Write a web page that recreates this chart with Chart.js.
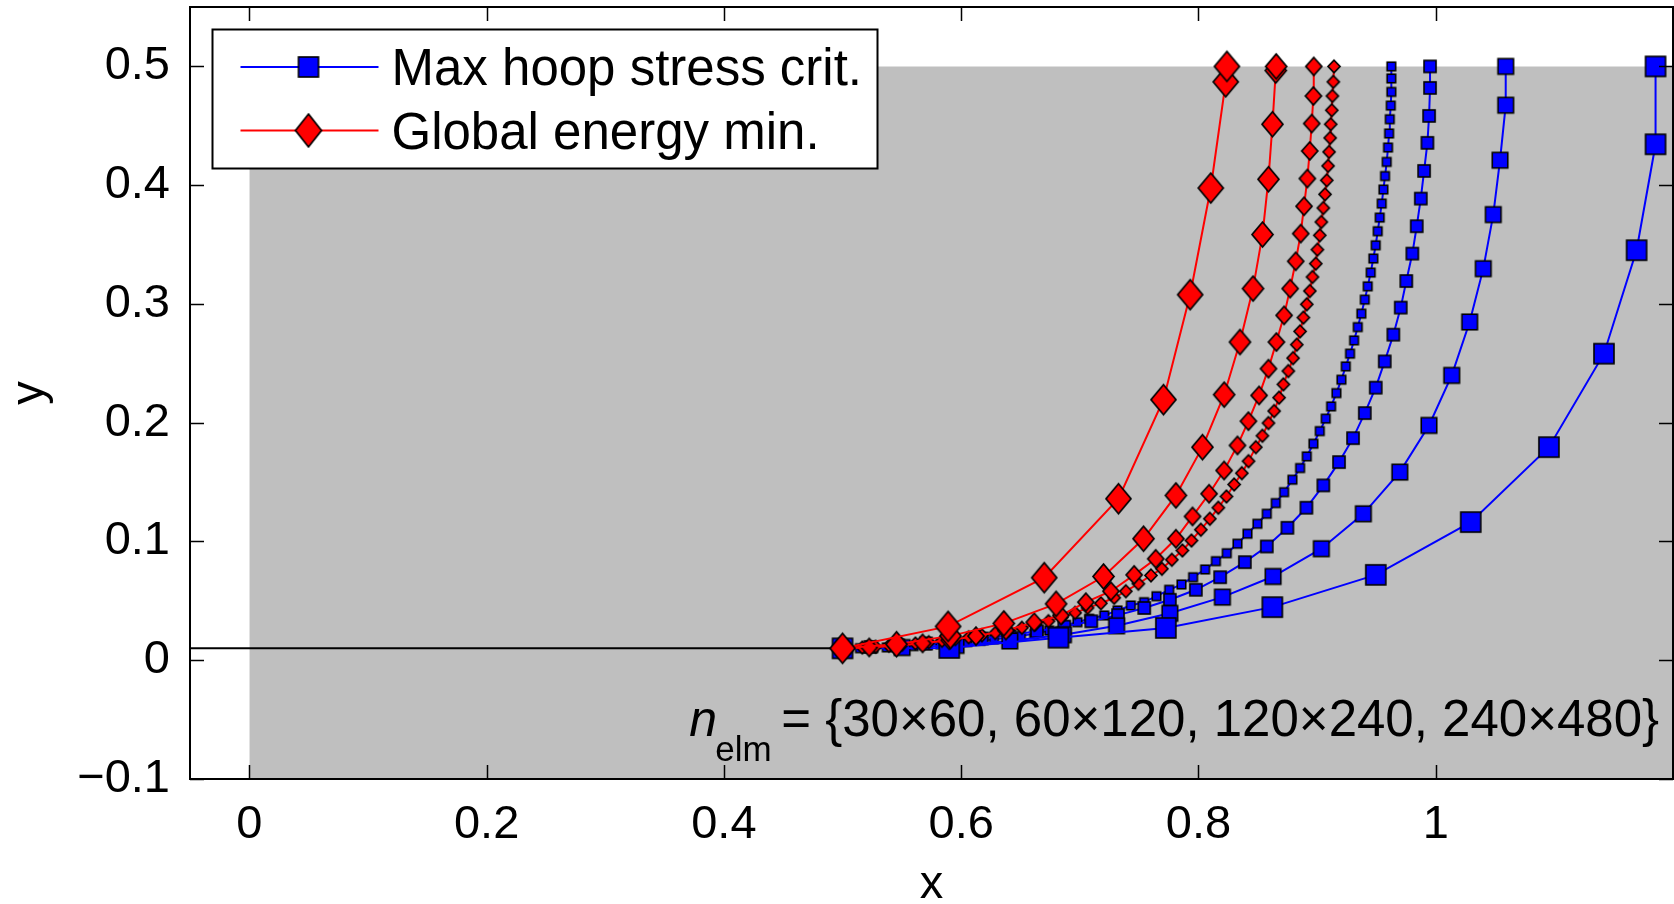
<!DOCTYPE html>
<html>
<head>
<meta charset="utf-8">
<script src="https://cdn.jsdelivr.net/npm/chart.js@4.4.1/dist/chart.umd.min.js"></script>
<style>
  html, body { margin: 0; padding: 0; background: #ffffff; }
  #wrap { width: 1674px; height: 904px; position: relative; }
  canvas { display: block; }
</style>
</head>
<body>
<div id="wrap"><canvas id="chart" width="1674" height="904"></canvas></div>
<script>
// ---------------- data ----------------
const seriesNames = ['Max hoop stress crit.', 'Global energy min.'];
const meshLabels = ['30\u00d760', '60\u00d7120', '120\u00d7240', '240\u00d7480'];

const xTicks = [0, 0.2, 0.4, 0.6, 0.8, 1];
const yTicks = [-0.1, 0, 0.1, 0.2, 0.3, 0.4, 0.5];

// specimen (grey domain) and initial crack
const domainX = [0, 1.2];
const domainTop = [0.5, 0.5];
const domainBottom = -0.1;
const crackX = [-0.05, 0.5];
const crackY = [0.01, 0.01];

// Max hoop stress criterion
const hoop30X = [0.500, 0.590, 0.682, 0.7725, 0.8623, 0.9495, 1.0295, 1.0954, 1.1418, 1.1693, 1.1853, 1.1853];
const hoop30Y = [0.010, 0.0104, 0.019, 0.0272, 0.0447, 0.0719, 0.1163, 0.1794, 0.2581, 0.3452, 0.4344, 0.500];

const hoop60X = [0.500, 0.5502, 0.5957, 0.641, 0.6862, 0.731, 0.7759, 0.8202, 0.8629, 0.9036, 0.939, 0.9697, 0.9943, 1.0135, 1.0286, 1.0401, 1.0485, 1.0542, 1.059, 1.059];
const hoop60Y = [0.010, 0.0107, 0.0125, 0.0162, 0.0215, 0.029, 0.0395, 0.0531, 0.0705, 0.0939, 0.1233, 0.1584, 0.1977, 0.2398, 0.2848, 0.3297, 0.3752, 0.421, 0.4673, 0.500];

const hoop120X = [0.500, 0.5235, 0.547, 0.5705, 0.594, 0.6174, 0.6407, 0.6639, 0.6869, 0.7097, 0.7322, 0.7543, 0.7759, 0.7978, 0.8183, 0.8391, 0.8576, 0.875, 0.891, 0.9053, 0.9185, 0.9303, 0.9402, 0.9494, 0.957, 0.9643, 0.9705, 0.9752, 0.9803, 0.984, 0.9874, 0.9902, 0.993, 0.9944, 0.9952, 0.9952];
const hoop120Y = [0.010, 0.0112, 0.0125, 0.0141, 0.016, 0.0183, 0.0211, 0.0244, 0.0283, 0.0328, 0.038, 0.044, 0.0509, 0.0593, 0.0699, 0.0826, 0.0958, 0.1115, 0.1284, 0.1472, 0.1668, 0.187, 0.2081, 0.2295, 0.2516, 0.2741, 0.2969, 0.3193, 0.3424, 0.3654, 0.3887, 0.412, 0.4356, 0.4583, 0.4819, 0.500];

const hoop240X = [0.500, 0.5147, 0.526, 0.5373, 0.5486, 0.5599, 0.5712, 0.5825, 0.5938, 0.6051, 0.6164, 0.6277, 0.639, 0.6503, 0.6616, 0.6742, 0.6869, 0.698, 0.7079, 0.7206, 0.7318, 0.743, 0.7542, 0.7646, 0.7753, 0.7857, 0.7955, 0.8056, 0.8147, 0.8239, 0.8329, 0.8413, 0.8497, 0.8576, 0.8652, 0.8722, 0.8792, 0.8857, 0.8913, 0.8969, 0.9023, 0.9073, 0.9118, 0.9163, 0.9205, 0.9242, 0.9278, 0.9312, 0.9343, 0.9373, 0.9402, 0.9427, 0.9452, 0.9474, 0.9494, 0.9511, 0.9528, 0.9545, 0.9559, 0.9573, 0.9587, 0.9598, 0.9607, 0.9613, 0.9621, 0.9626, 0.9626, 0.9626];
const hoop240Y = [0.010, 0.0101, 0.0104, 0.0108, 0.0113, 0.0119, 0.0126, 0.0134, 0.0143, 0.0153, 0.0164, 0.0176, 0.019, 0.0205, 0.0222, 0.025, 0.0292, 0.032, 0.0349, 0.0377, 0.0419, 0.0461, 0.0489, 0.0539, 0.0593, 0.0638, 0.0699, 0.0764, 0.0834, 0.0901, 0.0981, 0.1065, 0.1149, 0.1233, 0.1323, 0.1415, 0.152, 0.1618, 0.1716, 0.1823, 0.1929, 0.2034, 0.2137, 0.2249, 0.2362, 0.2474, 0.2581, 0.2693, 0.2805, 0.2918, 0.3036, 0.3148, 0.3264, 0.3382, 0.3494, 0.3612, 0.3727, 0.3845, 0.3963, 0.4077, 0.4196, 0.4317, 0.4435, 0.4555, 0.467, 0.4785, 0.4898, 0.500];

// Global energy minimisation
const energy30X = [0.500, 0.589, 0.670, 0.7326, 0.7705, 0.793, 0.8104, 0.823, 0.824];
const energy30Y = [0.010, 0.0285, 0.0695, 0.136, 0.2194, 0.3078, 0.3976, 0.487, 0.500];

const energy60X = [0.500, 0.5455, 0.591, 0.636, 0.680, 0.720, 0.7537, 0.781, 0.8034, 0.8217, 0.835, 0.846, 0.854, 0.859, 0.8624, 0.8652, 0.8655];
const energy60Y = [0.010, 0.0135, 0.0205, 0.031, 0.0475, 0.0705, 0.1023, 0.1388, 0.1794, 0.2236, 0.2679, 0.3129, 0.3584, 0.405, 0.4513, 0.4965, 0.500];

const energy120X = [0.500, 0.5225, 0.545, 0.5675, 0.590, 0.6125, 0.6377, 0.6616, 0.6841, 0.7051, 0.7262, 0.7458, 0.764, 0.781, 0.795, 0.809, 0.8216, 0.8329, 0.8421, 0.8511, 0.859, 0.8657, 0.8722, 0.8773, 0.882, 0.8862, 0.889, 0.8918, 0.8938, 0.8955, 0.8969, 0.8972];
const energy120Y = [0.010, 0.0108, 0.0122, 0.0142, 0.0168, 0.0203, 0.025, 0.032, 0.0377, 0.0489, 0.0581, 0.0719, 0.0854, 0.1023, 0.1211, 0.1402, 0.1598, 0.1809, 0.2013, 0.223, 0.2455, 0.2679, 0.2904, 0.3129, 0.3359, 0.3592, 0.3822, 0.4056, 0.4288, 0.4519, 0.4751, 0.500];

const energy240X = [0.500, 0.5167, 0.5279, 0.5391, 0.5503, 0.5615, 0.5727, 0.5839, 0.5951, 0.6063, 0.6175, 0.6287, 0.6399, 0.6512, 0.6624, 0.6736, 0.6849, 0.6961, 0.7065, 0.7178, 0.729, 0.7388, 0.7494, 0.760, 0.7692, 0.7776, 0.7865, 0.7941, 0.802, 0.8096, 0.8168, 0.8236, 0.8301, 0.8366, 0.8422, 0.8484, 0.8539, 0.859, 0.8638, 0.868, 0.8716, 0.8758, 0.8798, 0.8829, 0.8857, 0.8885, 0.8913, 0.8939, 0.8961, 0.8989, 0.9003, 0.9023, 0.9036, 0.9053, 0.9067, 0.9082, 0.9093, 0.9101, 0.911, 0.9115, 0.9124, 0.9129, 0.9137, 0.9143];
const energy240Y = [0.010, 0.0107, 0.0114, 0.0122, 0.0131, 0.0141, 0.0152, 0.0164, 0.0178, 0.0193, 0.021, 0.0229, 0.025, 0.0273, 0.0301, 0.0329, 0.0362, 0.0399, 0.0441, 0.048, 0.0526, 0.0581, 0.0644, 0.0714, 0.077, 0.0846, 0.0924, 0.1008, 0.1099, 0.1191, 0.1284, 0.1379, 0.148, 0.1575, 0.1676, 0.1794, 0.189, 0.1997, 0.2098, 0.2211, 0.2323, 0.2435, 0.2544, 0.2657, 0.2769, 0.2885, 0.2997, 0.3109, 0.3227, 0.3339, 0.3457, 0.3578, 0.369, 0.3808, 0.3923, 0.4041, 0.4162, 0.428, 0.4398, 0.4513, 0.4631, 0.4751, 0.487, 0.500];

// ---------------- styling ----------------
const BLUE = '#0000ff';
const RED = '#ff0000';
const FONT = "'Liberation Sans', Arial, Helvetica, sans-serif";

function squareMarker(side, fill) {
  const s = Math.ceil(side) + 4;
  const c = document.createElement('canvas');
  c.width = s; c.height = s;
  const g = c.getContext('2d');
  const o = (s - side) / 2;
  g.fillStyle = fill;
  g.fillRect(o, o, side, side);
  g.strokeStyle = '#000';
  g.lineWidth = 1.6;
  g.strokeRect(o, o, side, side);
  return c;
}
function diamondMarker(w, h, fill) {
  const cw = Math.ceil(w) + 4, ch = Math.ceil(h) + 4;
  const c = document.createElement('canvas');
  c.width = cw; c.height = ch;
  const g = c.getContext('2d');
  g.beginPath();
  g.moveTo(cw / 2, (ch - h) / 2);
  g.lineTo((cw + w) / 2, ch / 2);
  g.lineTo(cw / 2, (ch + h) / 2);
  g.lineTo((cw - w) / 2, ch / 2);
  g.closePath();
  g.fillStyle = fill;
  g.fill();
  g.strokeStyle = '#000';
  g.lineWidth = 1.7;
  g.lineJoin = 'miter';
  g.stroke();
  return c;
}

const zip = (X, Y) => X.map((v, i) => ({ x: v, y: Y[i] }));

function series(label, X, Y, color, marker, order) {
  return {
    label: label,
    data: zip(X, Y),
    showLine: true,
    borderColor: color,
    borderWidth: 2,
    backgroundColor: color,
    pointStyle: marker,
    pointRadius: 6,
    pointHoverRadius: 6,
    fill: false,
    tension: 0,
    order: order
  };
}

const datasets = [
  {
    label: 'domain',
    data: zip(domainX, domainTop),
    showLine: true,
    borderWidth: 0,
    borderColor: 'rgba(0,0,0,0)',
    backgroundColor: '#bfbfbf',
    pointRadius: 0,
    fill: { value: domainBottom },
    order: 100
  },
  {
    label: 'crack',
    data: zip(crackX, crackY),
    showLine: true,
    borderWidth: 2,
    borderColor: '#000',
    pointRadius: 0,
    fill: false,
    order: 90
  },
  series(seriesNames[0] + ' ' + meshLabels[3], hoop240X, hoop240Y, BLUE, squareMarker(8.5, BLUE), 18),
  series(seriesNames[0] + ' ' + meshLabels[2], hoop120X, hoop120Y, BLUE, squareMarker(12, BLUE), 17),
  series(seriesNames[0] + ' ' + meshLabels[1], hoop60X, hoop60Y, BLUE, squareMarker(15.5, BLUE), 16),
  series(seriesNames[0] + ' ' + meshLabels[0], hoop30X, hoop30Y, BLUE, squareMarker(20, BLUE), 15),
  series(seriesNames[1] + ' ' + meshLabels[3], energy240X, energy240Y, RED, diamondMarker(12, 12.5, RED), 14),
  series(seriesNames[1] + ' ' + meshLabels[2], energy120X, energy120Y, RED, diamondMarker(16, 18, RED), 13),
  series(seriesNames[1] + ' ' + meshLabels[1], energy60X, energy60Y, RED, diamondMarker(21, 25, RED), 12),
  series(seriesNames[1] + ' ' + meshLabels[0], energy30X, energy30Y, RED, diamondMarker(25, 30, RED), 11)
];

const legendMarkers = [squareMarker(20, BLUE), diamondMarker(26, 33, RED)];
const legendColors = [BLUE, RED];

const fmt = v => {
  const r = Math.round(v * 10) / 10;
  return r < 0 ? '\u2212' + String(Math.abs(r)) : String(r);
};

// frame, inner ticks, legend and annotation
const decorPlugin = {
  id: 'decor',
  afterDatasetsDraw(chart) {
    const { ctx, chartArea: a, scales } = chart;
    const xs = scales.x, ys = scales.y;
    ctx.save();
    // box with inward ticks on all four sides
    ctx.strokeStyle = '#000';
    ctx.lineWidth = 2;
    ctx.strokeRect(a.left, a.top, a.right - a.left, a.bottom - a.top);
    const tl = 14;
    ctx.beginPath();
    xTicks.forEach(v => {
      const px = Math.round(xs.getPixelForValue(v)) + 0.5;
      ctx.moveTo(px, a.bottom); ctx.lineTo(px, a.bottom - tl);
      ctx.moveTo(px, a.top); ctx.lineTo(px, a.top + tl);
    });
    yTicks.forEach(v => {
      const py = Math.round(ys.getPixelForValue(v)) + 0.5;
      ctx.moveTo(a.left, py); ctx.lineTo(a.left + tl, py);
      ctx.moveTo(a.right, py); ctx.lineTo(a.right - tl, py);
    });
    ctx.lineWidth = 1.5;
    ctx.stroke();

    // annotation n_elm = {...}
    const ax = xs.getPixelForValue(0.3725);
    const ay = ys.getPixelForValue(-0.0634);
    ctx.fillStyle = '#000';
    ctx.textBaseline = 'alphabetic';
    ctx.textAlign = 'left';
    ctx.font = 'italic 50px ' + FONT;
    ctx.fillText('n', ax - 2, ay);
    ctx.font = '35px ' + FONT;
    ctx.fillText('elm', ax + 24, ay + 25);
    ctx.font = '51px ' + FONT;
    ctx.fillText('= {' + meshLabels.join(', ') + '}', ax + 90, ay);

    // legend box
    const lx = a.left + 22.5, ly = a.top + 22.5, lw = 665, lh = 139;
    ctx.fillStyle = '#fff';
    ctx.fillRect(lx, ly, lw, lh);
    ctx.strokeStyle = '#000';
    ctx.lineWidth = 2;
    ctx.strokeRect(lx, ly, lw, lh);
    const rows = [ly + 37.5, ly + 101];
    rows.forEach((ry, i) => {
      ctx.strokeStyle = legendColors[i];
      ctx.lineWidth = 2;
      ctx.beginPath();
      ctx.moveTo(lx + 28, ry);
      ctx.lineTo(lx + 166, ry);
      ctx.stroke();
      const m = legendMarkers[i];
      ctx.drawImage(m, lx + 96 - m.width / 2, ry - m.height / 2);
      ctx.fillStyle = '#000';
      ctx.font = '51px ' + FONT;
      ctx.textBaseline = 'middle';
      ctx.fillText(seriesNames[i], lx + 179, ry + 4);
    });
    ctx.restore();
  }
};

const tickFont = { family: FONT, size: 47 };

new Chart(document.getElementById('chart'), {
  type: 'scatter',
  data: { datasets: datasets },
  options: {
    responsive: false,
    devicePixelRatio: 1,
    animation: false,
    events: [],
    layout: { autoPadding: false, padding: { left: 0, right: 1, top: 7, bottom: 0 } },
    plugins: {
      legend: { display: false },
      tooltip: { enabled: false },
      title: { display: false }
    },
    scales: {
      x: {
        type: 'linear',
        position: 'bottom',
        min: -0.05,
        max: 1.2,
        afterBuildTicks: s => { s.ticks = xTicks.map(v => ({ value: v })); },
        afterFit: s => { s.height = 125; s.paddingLeft = 0; s.paddingRight = 0; },
        grid: { display: false, drawTicks: false },
        border: { display: false },
        ticks: { color: '#000', font: tickFont, padding: 18, maxRotation: 0, autoSkip: false, callback: v => fmt(v) },
        title: { display: true, text: 'x', color: '#000', font: { family: FONT, size: 47, lineHeight: 0.8 }, padding: { top: 0, bottom: 0 } }
      },
      y: {
        type: 'linear',
        position: 'left',
        min: -0.1,
        max: 0.55,
        afterBuildTicks: s => { s.ticks = yTicks.map(v => ({ value: v })); },
        afterFit: s => { s.width = 190; s.paddingTop = 0; s.paddingBottom = 0; },
        grid: { display: false, drawTicks: false },
        border: { display: false },
        ticks: { color: '#000', font: tickFont, padding: 20, autoSkip: false, callback: v => fmt(v) },
        title: { display: true, text: 'y', color: '#000', font: { family: FONT, size: 47 }, padding: { top: 2, bottom: 0 } }
      }
    }
  },
  plugins: [decorPlugin]
});
</script>
</body>
</html>
